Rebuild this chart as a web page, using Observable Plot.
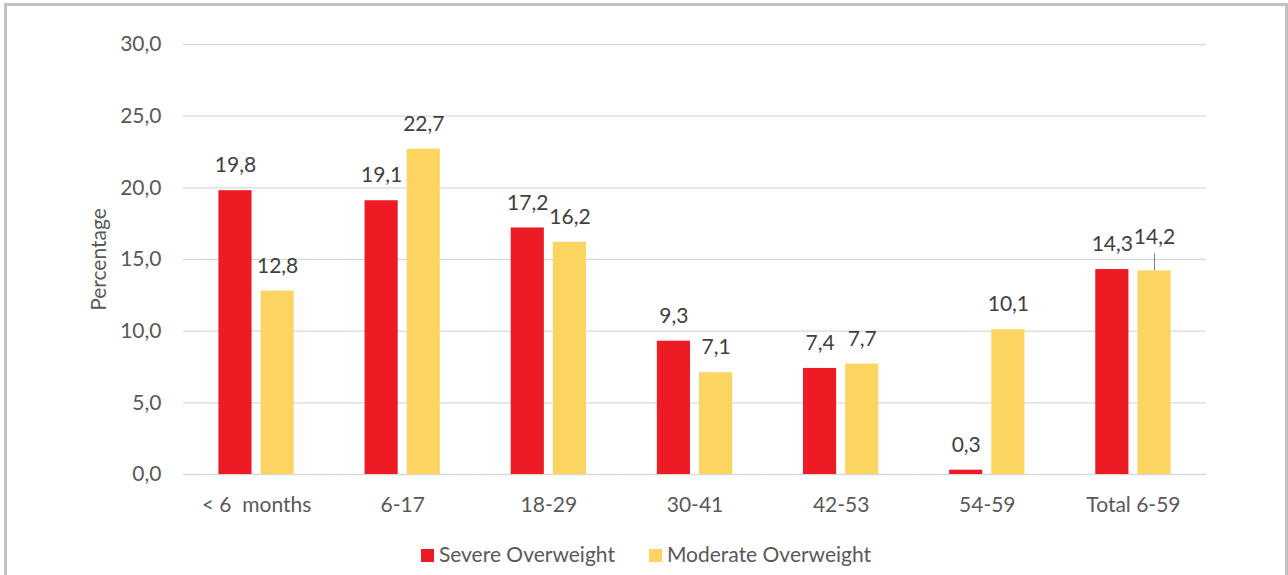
<!DOCTYPE html>
<html><head><meta charset="utf-8">
<script src="https://cdn.jsdelivr.net/npm/d3@7"></script>
<script src="https://cdn.jsdelivr.net/npm/@observablehq/plot@0.6"></script>
<style>
html,body{margin:0;padding:0;background:#fff;overflow:hidden;width:1288px;height:575px;}
#frame{position:absolute;left:4px;top:3px;width:1284px;height:640px;border:3px solid #c2c2c6;border-bottom:none;box-sizing:border-box;}
#chart{position:absolute;left:0;top:0;}
#legend{position:absolute;left:4px;top:541px;width:1284px;display:flex;justify-content:center;font-family:Lato, sans-serif;font-size:21px;line-height:25px;color:#595959;}
#legend .item{margin:0 17px;white-space:nowrap;}
#legend .sw{display:inline-block;width:13px;height:13px;margin-right:5px;}
</style>
</head><body>
<div id="frame"></div>
<div id="chart"></div>
<div id="legend"></div>
<script>
const ages = ["< 6\u00a0\u00a0months", "6-17", "18-29", "30-41", "42-53", "54-59", "Total 6-59"];
const series = ["Severe Overweight", "Moderate Overweight"];
const severe = [19.8, 19.1, 17.2, 9.3, 7.4, 0.3, 14.3];
const moderate = [12.8, 22.7, 16.2, 7.1, 7.7, 10.1, 14.2];
const yTicks = [0, 5, 10, 15, 20, 25, 30];
const colors = ["#ED1C24", "#FCD462"];

const data = ages.flatMap((a, i) => [
  {age: a, series: series[0], value: severe[i]},
  {age: a, series: series[1], value: moderate[i]}
]);
const fmt = v => v.toFixed(1).replace(".", ",");
const isLeader = d => d.age === "Total 6-59" && d.series === series[1];

const chart = Plot.plot({
  width: 1288, height: 530,
  marginTop: 44, marginBottom: 56, marginLeft: 183, marginRight: 82,
  style: {fontFamily: "Lato, sans-serif", fontSize: "21px", color: "#595959", background: "transparent"},
  fx: {domain: ages, padding: 0, round: false, axis: "bottom", label: null, tickSize: 0, tickPadding: 23},
  x: {domain: series, axis: null, paddingInner: 0.214, paddingOuter: 0.84, round: false},
  y: {domain: [0, 30], ticks: yTicks, tickFormat: fmt, tickSize: 0, tickPadding: 22,
      label: "Percentage", labelArrow: "none", labelAnchor: "center", labelOffset: 92},
  color: {domain: series, range: colors},
  marks: [
    Plot.ruleY(yTicks, {stroke: "#d9d9d9", strokeWidth: 1.3}),
    Plot.barY(data, {fx: "age", x: "series", y: "value", fill: "series"}),
    Plot.text(data.filter(d => !isLeader(d)), {fx: "age", x: "series", y: "value", text: d => fmt(d.value), dy: -25, fill: "#404040"}),
    Plot.ruleX(data.filter(isLeader), {fx: "age", x: "series", y1: "value", y2: "value", insetBottom: 17, stroke: "#808080"}),
    Plot.text(data.filter(isLeader), {fx: "age", x: "series", y: "value", text: d => fmt(d.value), dy: -34, fill: "#404040"})
  ]
});
document.getElementById("chart").appendChild(chart);

const legend = document.getElementById("legend");
series.forEach((s, i) => {
  const item = document.createElement("span");
  item.className = "item";
  const sw = document.createElement("span");
  sw.className = "sw";
  sw.style.background = colors[i];
  item.appendChild(sw);
  item.appendChild(document.createTextNode(s));
  legend.appendChild(item);
});
</script>
</body></html>
